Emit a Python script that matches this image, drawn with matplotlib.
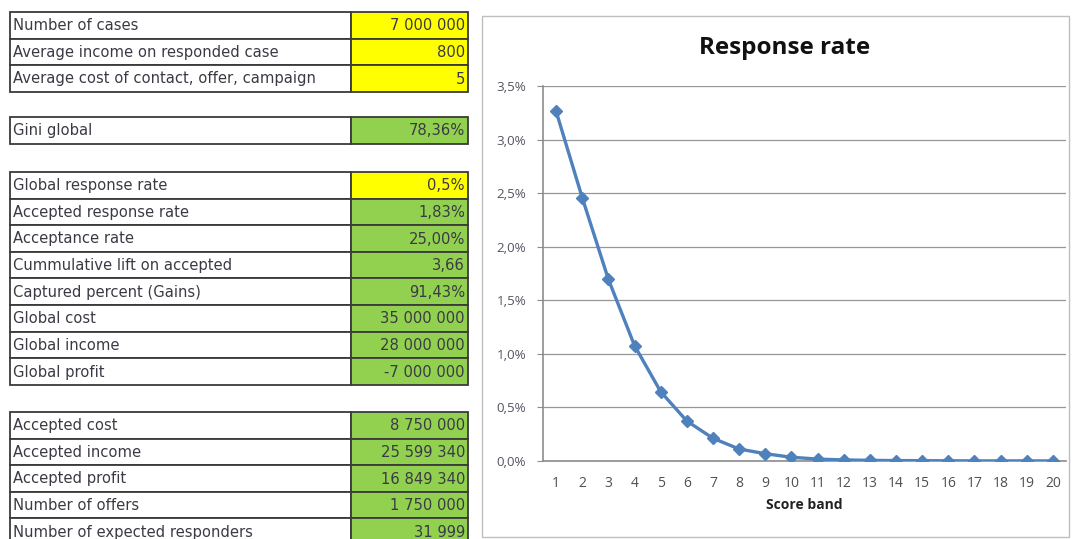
import matplotlib
matplotlib.use("Agg")
import matplotlib.pyplot as plt
from matplotlib.patches import Rectangle
from matplotlib.ticker import FuncFormatter

# ---------------- data ----------------
g1_labels = ["Number of cases", "Average income on responded case",
             "Average cost of contact, offer, campaign"]
g1_values = ["7 000 000", "800", "5"]
g1_colors = ["yellow", "yellow", "yellow"]

g2_labels = ["Gini global"]
g2_values = ["78,36%"]
g2_colors = ["green"]

g3_labels = ["Global response rate", "Accepted response rate", "Acceptance rate",
             "Cummulative lift on accepted", "Captured percent (Gains)",
             "Global cost", "Global income", "Global profit"]
g3_values = ["0,5%", "1,83%", "25,00%", "3,66", "91,43%",
             "35 000 000", "28 000 000", "-7 000 000"]
g3_colors = ["yellow", "green", "green", "green", "green", "green", "green", "green"]

g4_labels = ["Accepted cost", "Accepted income", "Accepted profit",
             "Number of offers", "Number of expected responders"]
g4_values = ["8 750 000", "25 599 340", "16 849 340", "1 750 000", "31 999"]
g4_colors = ["green"] * 5

score_bands = list(range(1, 21))
response_rate = [3.265, 2.458, 1.696, 1.077, 0.647, 0.373, 0.212, 0.112, 0.068, 0.035,
                 0.018, 0.010, 0.006, 0.004, 0.003, 0.002, 0.001, 0.001, 0.001, 0.001]
y_ticks = [0.0, 0.5, 1.0, 1.5, 2.0, 2.5, 3.0, 3.5]

# ---------------- figure ----------------
W, H = 1073, 539
fig = plt.figure(figsize=(W / 100, H / 100), dpi=100)
fig.patch.set_facecolor("white")

# full-figure overlay in pixel coordinates for the spreadsheet table
bg = fig.add_axes([0, 0, 1, 1])
bg.set_xlim(0, W)
bg.set_ylim(H, 0)
bg.axis("off")

fill = {"yellow": "#FFFF00", "green": "#92D050"}
x0, x1, x2 = 10, 351, 468
row_h = 26.6
groups = [
    (12, g1_labels, g1_values, g1_colors),
    (117, g2_labels, g2_values, g2_colors),
    (172, g3_labels, g3_values, g3_colors),
    (412, g4_labels, g4_values, g4_colors),
]
tfont = dict(family="DejaVu Sans", fontsize=10.6, color="#3a3a44")
for top, labels, values, colors in groups:
    for i, (lab, val, col) in enumerate(zip(labels, values, colors)):
        y = top + i * row_h
        bg.add_patch(Rectangle((x0, y), x1 - x0, row_h, facecolor="white",
                               edgecolor="#3a3a3a", lw=1.3))
        bg.add_patch(Rectangle((x1, y), x2 - x1, row_h, facecolor=fill[col],
                               edgecolor="#3a3a3a", lw=1.3))
        bg.text(x0 + 3, y + row_h / 2 + 0.5, lab, ha="left", va="center", **tfont)
        bg.text(x2 - 3, y + row_h / 2 + 0.5, val, ha="right", va="center", **tfont)

# chart frame
bg.add_patch(Rectangle((482, 16), 1069 - 482, 521, facecolor="none",
                       edgecolor="#BFBFBF", lw=1.0))
bg.text(785, 48, "Response rate", ha="center", va="center",
        family="Open Sans", fontweight="bold", fontsize=17.5, color="#111111")

# ---------------- line chart ----------------
ax_l, ax_r, ax_t, ax_b = 543, 1066, 86, 461
ax = fig.add_axes([ax_l / W, (H - ax_b) / H, (ax_r - ax_l) / W, (ax_b - ax_t) / H])
ax.set_facecolor("none")
ax.plot(score_bands, response_rate, color="#4F81BD", lw=2.4, marker="D",
        markersize=6.5, markerfacecolor="#4F81BD", markeredgecolor="#4F81BD", zorder=3)
ax.set_xlim(0.5, 20.5)
ax.set_ylim(0, 3.5)
ax.set_yticks(y_ticks)
ax.yaxis.set_major_formatter(FuncFormatter(lambda v, p: f"{v:.1f}%".replace(".", ",")))
ax.set_xticks(score_bands)
ax.set_xticklabels([str(s) for s in score_bands])
ax.grid(axis="y", color="#969696", lw=0.9)
ax.set_axisbelow(True)
for s in ["top", "right"]:
    ax.spines[s].set_visible(False)
ax.spines["left"].set_color("#8C8C8C")
ax.spines["bottom"].set_color("#8C8C8C")
ax.spines["left"].set_linewidth(1.2)
ax.spines["bottom"].set_linewidth(1.2)
ax.tick_params(axis="y", length=4, color="#8C8C8C", labelsize=9.6,
               labelcolor="#555560", pad=8)
ax.tick_params(axis="x", length=0, labelsize=10, labelcolor="#505050", pad=11)
for t in ax.get_xticklabels() + ax.get_yticklabels():
    t.set_family("Open Sans")
ax.set_xlabel("Score band", family="Open Sans", fontweight="bold", fontsize=10,
              color="#222222", labelpad=5)

fig.savefig("out.png", dpi=100, facecolor="white")
